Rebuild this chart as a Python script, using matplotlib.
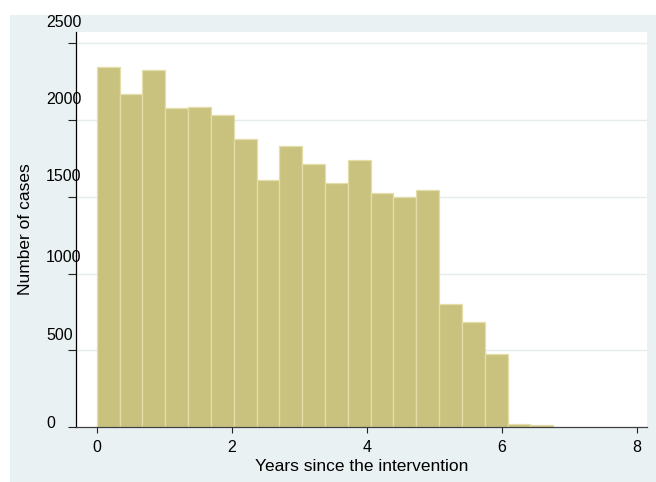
import numpy as np
import matplotlib.pyplot as plt
from matplotlib.patches import Rectangle
from matplotlib.transforms import ScaledTranslation

plt.rcParams['font.family'] = ['Liberation Sans', 'DejaVu Sans']

# histogram of years since the intervention (20 bins from 0)
bin_start = 0.0
bin_width = 0.3382
counts = [2348, 2168, 2326, 2081, 2083, 2033, 1877, 1612, 1829, 1714,
          1589, 1742, 1523, 1501, 1543, 805, 684, 477, 21, 13]
x_ticks = [0, 2, 4, 6, 8]
y_ticks = [0, 500, 1000, 1500, 2000, 2500]
# vertical nudges (px) of the y tick labels
y_label_shift = [5.6, 16, 18, 22, 22, 22]

bar_color = '#c9c27f'
edge_color = '#e3dea8'
region_color = '#eaf1f3'
grid_color = '#e4ecee'

fig = plt.figure(figsize=(6.56, 4.82), dpi=100)
fig.patch.set_facecolor('white')
fig.patches.append(Rectangle((10 / 656, 0), 1 - 10 / 656, 1 - 15 / 482,
                             transform=fig.transFigure, facecolor=region_color,
                             edgecolor='none', zorder=-10))

ax = fig.add_axes([76 / 656, (482 - 427.3) / 482, 571 / 656, 395.3 / 482])
ax.set_zorder(1)
ax.set_facecolor('white')

left = bin_start + bin_width * np.arange(len(counts))
ax.bar(left, counts, width=bin_width, align='edge', color=bar_color,
       edgecolor=edge_color, linewidth=0.9, zorder=2)

ax.set_xlim(-0.307, 8.153)
ax.set_ylim(0, 2573)
ax.set_xticks(x_ticks)
ax.set_yticks(y_ticks)
ax.set_xticklabels([str(v) for v in x_ticks])
ax.set_yticklabels([str(v) for v in y_ticks])

for v in y_ticks[1:]:
    ax.axhline(v, color=grid_color, linewidth=1.0, zorder=1)

for side in ['top', 'right']:
    ax.spines[side].set_visible(False)
ax.spines['left'].set_color('black')
ax.spines['left'].set_linewidth(0.9)
ax.spines['bottom'].set_color('#404040')
ax.spines['bottom'].set_linewidth(0.9)
ax.spines['bottom'].set_zorder(3)

ax.tick_params(axis='x', length=4.3, width=0.8, color='#222222',
               labelsize=11.5, pad=5)
ax.tick_params(axis='y', length=5.8, width=0.8, color='#222222',
               labelsize=11.5, pad=15.8)
for lab, dy in zip(ax.get_yticklabels(), y_label_shift):
    lab.set_horizontalalignment('left')
    lab.set_transform(lab.get_transform() +
                      ScaledTranslation(0, dy / 100, fig.dpi_scale_trans))

ax.set_xlabel('Years since the intervention', fontsize=12.5, labelpad=2.5)
fig.text(25.5 / 656, 1 - 229 / 482, 'Number of cases', rotation=90,
         fontsize=12.5, ha='center', va='center')

fig.savefig('out.png', dpi=100)
